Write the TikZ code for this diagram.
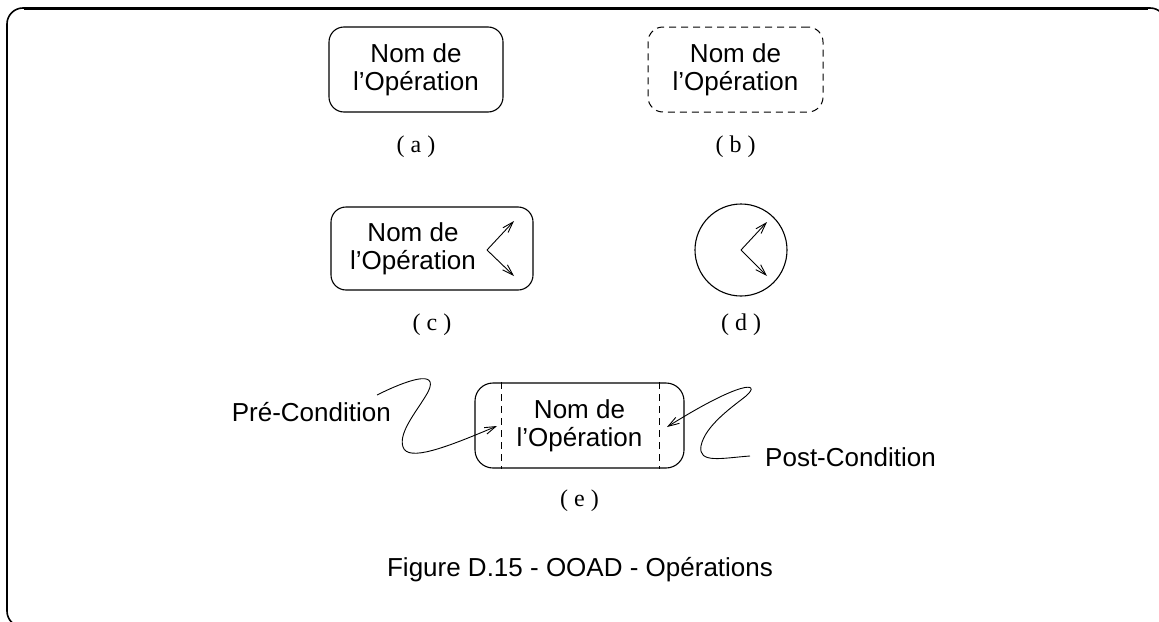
\documentclass[tikz,border=0pt]{standalone}
\usepackage{fontspec}
\setmainfont{Liberation Serif}
\setsansfont{Liberation Sans}
\usetikzlibrary{arrows.meta,calc}
\tikzset{
  opbox/.style={draw, line width=1.1pt, rounded corners=15pt, inner sep=0pt},
  optext/.style={font=\sffamily\fontsize{26}{28}\selectfont, align=center, inner sep=0pt},
  caplabel/.style={font=\rmfamily\fontsize{24}{26}\selectfont, inner sep=0pt},
  sansl/.style={font=\sffamily\fontsize{26}{28}\selectfont, inner sep=0pt},
  dashline/.style={line width=1pt, dash pattern=on 7pt off 5pt},
  barb/.style={line width=0.9pt, -{Straight Barb[length=11pt,width=7pt,line width=0.9pt]}},
  wave/.style={line width=0.9pt}
}
\begin{document}
\begin{tikzpicture}[x=1pt,y=-1pt]
\useasboundingbox (0,0) rectangle (1159,621);
\clip (0,0) rectangle (1159,621);
% frame
\draw[line width=1.6pt, rounded corners=16pt] (7,627) rectangle (1166,8);
\draw[line width=3pt] (24,8) -- (1148,8);
% (a)
\node[opbox, minimum width=174pt, minimum height=85pt, optext] (a) at (416,69.5) {Nom de\\l'Opération};
\node[caplabel] (la) at (416,147) {( a )};
% (b)
\node[opbox, dashline, minimum width=175pt, minimum height=85pt, optext] (b) at (735.5,69.5) {Nom de\\l'Opération};
\node[caplabel] (lb) at (735.5,147) {( b )};
% (c)
\node[opbox, minimum width=202pt, minimum height=83pt] (c) at (432,248.5) {};
\node[optext] (ct) at (413,248.5) {Nom de\\l'Opération};
\coordinate (cv) at (487,250);
\coordinate (cu) at (514,221);
\coordinate (cd) at (514,276);
\draw[barb] (cv) -- (cu);
\draw[barb] (cv) -- (cd);
\node[caplabel] (lc) at (432,325) {( c )};
% (d)
\node[draw, line width=1.1pt, circle, minimum size=92pt, inner sep=0pt] (d) at (741,250) {};
\coordinate (dv) at (d.center);
\coordinate (du) at (767,222);
\coordinate (dd) at (767,276);
\draw[barb] (dv) -- (du);
\draw[barb] (dv) -- (dd);
\node[caplabel] (ld) at (741,325) {( d )};
% (e)
\node[opbox, rounded corners=18pt, minimum width=209pt, minimum height=85pt, optext] (e) at (579.5,425.5) {Nom de\\l'Opération};
\draw[dashline] ($(e.north west)+(27,0)$) -- ($(e.south west)+(27,0)$);
\draw[dashline] ($(e.north east)+(-25,0)$) -- ($(e.south east)+(-25,0)$);
\node[caplabel] (le) at (579.5,501) {( e )};
\node[sansl, anchor=east] (pre) at (391,412) {Pré-Condition};
\node[sansl, anchor=west] (post) at (765,457) {Post-Condition};
\coordinate (pretip) at (497,426);
\coordinate (posttip) at (667,427);
\draw[barb] (377,395) .. controls (405,381) and (440,368) .. (428,392)
  .. controls (418,410) and (398,432) .. (403,447)
  .. controls (408,462) and (445,448) .. (pretip);
\draw[barb] (750,456) .. controls (722,458) and (698,464) .. (701,446)
  .. controls (705,425) and (735,405) .. (746,396)
  .. controls (762,382) and (742,380) .. (posttip);
% caption
\node[sansl] (cap) at (580,570) {Figure D.15 - OOAD - Opérations};
\end{tikzpicture}
\end{document}
